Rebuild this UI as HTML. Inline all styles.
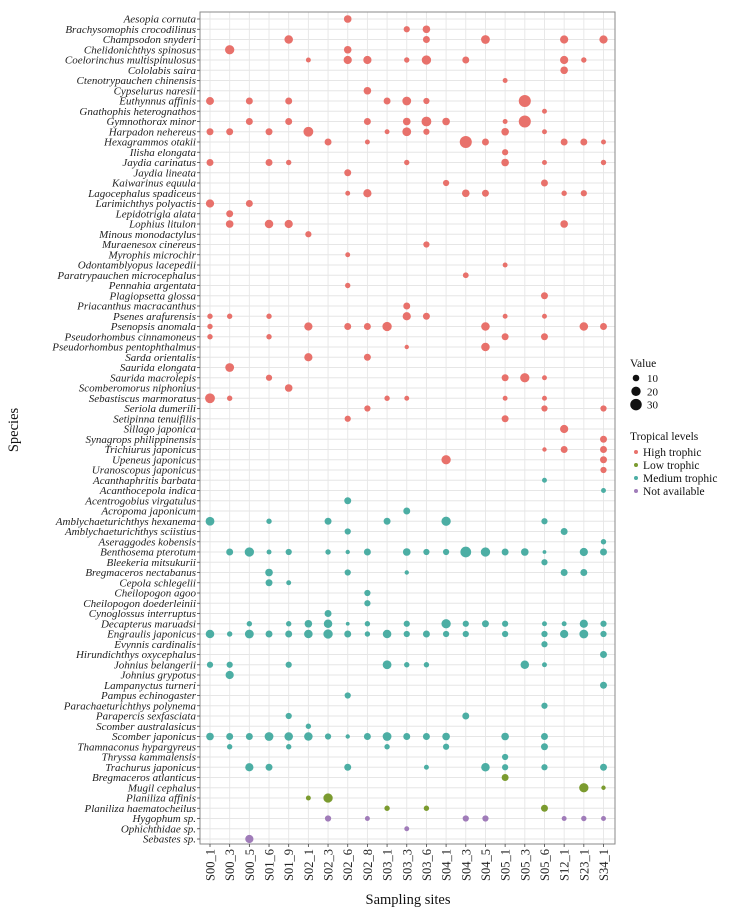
<!DOCTYPE html>
<html><head><meta charset="utf-8"><style>
html,body{margin:0;padding:0;background:#fff;}
svg{display:block;font-family:"Liberation Serif",serif;}
</style></head><body>
<svg id="chart" width="730" height="912" viewBox="0 0 730 912"></svg>
<script>
const species=["Aesopia cornuta","Brachysomophis crocodilinus","Champsodon snyderi","Chelidonichthys spinosus","Coelorinchus multispinulosus","Cololabis saira","Ctenotrypauchen chinensis","Cypselurus naresii","Euthynnus affinis","Gnathophis heterognathos","Gymnothorax minor","Harpadon nehereus","Hexagrammos otakii","Ilisha elongata","Jaydia carinatus","Jaydia lineata","Kaiwarinus equula","Lagocephalus spadiceus","Larimichthys polyactis","Lepidotrigla alata","Lophius litulon","Minous monodactylus","Muraenesox cinereus","Myrophis microchir","Odontamblyopus lacepedii","Paratrypauchen microcephalus","Pennahia argentata","Plagiopsetta glossa","Priacanthus macracanthus","Psenes arafurensis","Psenopsis anomala","Pseudorhombus cinnamoneus","Pseudorhombus pentophthalmus","Sarda orientalis","Saurida elongata","Saurida macrolepis","Scomberomorus niphonius","Sebastiscus marmoratus","Seriola dumerili","Setipinna tenuifilis","Sillago japonica","Synagrops philippinensis","Trichiurus japonicus","Upeneus japonicus","Uranoscopus japonicus","Acanthaphritis barbata","Acanthocepola indica","Acentrogobius virgatulus","Acropoma japonicum","Amblychaeturichthys hexanema","Amblychaeturichthys sciistius","Aseraggodes kobensis","Benthosema pterotum","Bleekeria mitsukurii","Bregmaceros nectabanus","Cepola schlegelii","Cheilopogon agoo","Cheilopogon doederleinii","Cynoglossus interruptus","Decapterus maruadsi","Engraulis japonicus","Evynnis cardinalis","Hirundichthys oxycephalus","Johnius belangerii","Johnius grypotus","Lampanyctus turneri","Pampus echinogaster","Parachaeturichthys polynema","Parapercis sexfasciata","Scomber australasicus","Scomber japonicus","Thamnaconus hypargyreus","Thryssa kammalensis","Trachurus japonicus","Bregmaceros atlanticus","Mugil cephalus","Planiliza affinis","Planiliza haematocheilus","Hygophum sp.","Ophichthidae sp.","Sebastes sp."];
const sites=["S00_1","S00_3","S00_5","S01_6","S01_9","S02_1","S02_3","S02_6","S02_8","S03_1","S03_3","S03_6","S04_1","S04_3","S04_5","S05_1","S05_3","S05_6","S12_1","S23_1","S34_1"];
const levelNames=["High trophic","Low trophic","Medium trophic","Not available"];
const levelColors=["#e8716b","#7b9b2f","#4caea4","#a07cb9"];
const speciesLevel=[0,0,0,0,0,0,0,0,0,0,0,0,0,0,0,0,0,0,0,0,0,0,0,0,0,0,0,0,0,0,0,0,0,0,0,0,0,0,0,0,0,0,0,0,0,2,2,2,2,2,2,2,2,2,2,2,2,2,2,2,2,2,2,2,2,2,2,2,2,2,2,2,2,2,1,1,1,1,3,3,3];
const values=[
[[7,12]],
[[10,8],[11,12]],
[[4,15],[11,10],[14,16],[18,14],[20,14]],
[[1,18],[7,12]],
[[5,5],[7,14],[8,14],[10,6],[11,18],[13,10],[18,14],[19,6]],
[[18,12]],
[[15,5]],
[[8,12]],
[[0,13],[2,10],[4,10],[9,10],[10,16],[11,8],[16,30]],
[[17,5]],
[[2,10],[4,10],[8,10],[10,12],[11,20],[12,12],[15,5],[16,30]],
[[0,10],[1,10],[3,10],[5,20],[9,5],[10,16],[11,8],[15,12],[17,5]],
[[6,10],[8,5],[13,30],[14,10],[18,10],[19,10],[20,5]],
[[15,8]],
[[0,10],[3,10],[4,6],[10,6],[15,12],[17,5],[20,6]],
[[7,10]],
[[12,8],[17,10]],
[[7,5],[8,14],[13,12],[14,10],[18,6],[19,8]],
[[0,14],[2,10]],
[[1,10]],
[[1,12],[3,15],[4,14],[18,12]],
[[5,8]],
[[11,8]],
[[7,5]],
[[15,5]],
[[13,7]],
[[7,6]],
[[17,10]],
[[10,10]],
[[0,6],[1,6],[3,6],[10,14],[11,10],[15,5],[17,5]],
[[0,6],[5,14],[7,10],[8,10],[9,18],[14,15],[19,15],[20,10]],
[[0,6],[3,6],[15,10],[17,10]],
[[10,4],[14,15]],
[[5,14],[8,10]],
[[1,16]],
[[3,8],[15,10],[16,18],[17,5]],
[[4,12]],
[[0,20],[1,6],[9,6],[10,5],[15,5],[17,5]],
[[8,8],[17,8],[20,8]],
[[7,8],[15,10]],
[[18,14]],
[[20,10]],
[[17,4],[18,10],[20,10]],
[[12,18],[20,10]],
[[20,8]],
[[17,5]],
[[20,5]],
[[7,10]],
[[10,10]],
[[0,16],[3,6],[6,10],[9,10],[12,18],[17,8]],
[[7,8],[18,10]],
[[20,6]],
[[1,10],[2,18],[3,5],[4,8],[6,6],[7,4],[8,10],[10,12],[11,8],[12,8],[13,24],[14,18],[15,10],[16,12],[17,3],[19,14],[20,10]],
[[17,8]],
[[3,12],[7,8],[10,4],[18,10],[19,10]],
[[3,10],[4,5]],
[[8,8]],
[[8,8]],
[[6,10]],
[[2,6],[4,6],[5,12],[6,15],[7,3],[8,6],[10,8],[12,18],[13,8],[14,10],[15,8],[17,5],[18,5],[19,14],[20,8]],
[[0,15],[1,6],[2,16],[3,10],[4,10],[5,15],[6,18],[7,10],[8,6],[9,15],[10,8],[11,10],[12,8],[13,8],[15,8],[17,8],[18,14],[19,16],[20,8]],
[[17,8]],
[[20,10]],
[[0,8],[1,8],[4,8],[9,16],[10,6],[11,6],[16,15],[17,5]],
[[1,14]],
[[20,10]],
[[7,8]],
[[17,8]],
[[4,8],[13,10]],
[[5,6]],
[[0,12],[1,10],[2,10],[3,16],[4,15],[5,15],[6,8],[7,4],[8,10],[9,16],[10,10],[11,10],[12,12],[15,12],[17,10]],
[[1,6],[4,6],[9,6],[12,8],[17,10]],
[[15,8]],
[[2,14],[3,10],[7,10],[11,5],[14,15],[15,8],[17,8],[20,10]],
[[15,10]],
[[19,18],[20,4]],
[[5,5],[6,18]],
[[9,6],[11,6],[17,10]],
[[6,8],[8,5],[13,8],[14,8],[18,5],[19,6],[20,5]],
[[10,5]],
[[2,14]]
];
const legendValues=[10,20,30];

const NS="http://www.w3.org/2000/svg";
const svg=document.getElementById("chart");
function mk(tag,attrs,parent){const e=document.createElementNS(NS,tag);for(const k in attrs)e.setAttribute(k,attrs[k]);(parent||svg).appendChild(e);return e;}
const L=200,R=615,T=12,B=844;
const xS=i=>210+i*(603.5-210)/(sites.length-1);
const yS=i=>19+i*(839-19)/(species.length-1);
const rS=v=>1.1*Math.sqrt(v);

const panel=mk("rect",{x:L,y:T,width:R-L,height:B-T,fill:"#fff",stroke:"none"});


const grid=mk("g",{stroke:"#e6e6e6","stroke-width":"0.9"});


species.forEach((s,i)=>{mk("line",{x1:L,x2:R,y1:yS(i),y2:yS(i)},grid);});
sites.forEach((s,i)=>{mk("line",{x1:xS(i),x2:xS(i),y1:T,y2:B},grid);});

const pts=mk("g",{});


values.forEach((row,si)=>{row.forEach(([xi,v])=>{
  const c=mk("circle",{cx:xS(xi),cy:yS(si),r:rS(v),fill:levelColors[speciesLevel[si]]},pts);
  
  
});});
const border=mk("rect",{x:L,y:T,width:R-L,height:B-T,fill:"none",stroke:"#8a8a8a","stroke-width":"1"});



const yAx=mk("g",{});


species.forEach((s,i)=>{
  mk("line",{x1:L-3,x2:L,y1:yS(i),y2:yS(i),stroke:"#444","stroke-width":"0.8"},yAx);
  const t=mk("text",{x:L-4,y:yS(i)+3.7,"text-anchor":"end","font-size":"11","font-style":"italic",fill:"#222"},yAx);
  t.textContent=s;
  
  
});
const xAx=mk("g",{});


sites.forEach((s,i)=>{
  mk("line",{x1:xS(i),x2:xS(i),y1:B,y2:B+3,stroke:"#444","stroke-width":"0.8"},xAx);
  const t=mk("text",{x:0,y:0,"text-anchor":"end","font-size":"12.5",fill:"#222",transform:`translate(${xS(i)+4.5},${B+5}) rotate(-90)`},xAx);
  t.textContent=s;
  
  
});
const xt=mk("text",{x:408,y:904,"text-anchor":"middle","font-size":"14.5",fill:"#111"});
xt.textContent="Sampling sites";


const yt=mk("text",{x:0,y:0,"text-anchor":"middle","font-size":"14.5",fill:"#111",transform:"translate(18,430) rotate(-90)"});
yt.textContent="Species";



const lg=mk("g",{});


const lt1=mk("text",{x:630,y:367,"font-size":"11.5",fill:"#111"},lg);
lt1.textContent="Value";


legendValues.forEach((v,i)=>{
  const y=378+i*13.3;
  const c=mk("circle",{cx:636,cy:y,r:rS(v)*0.95,fill:"#111"},lg);
  
  
  const t=mk("text",{x:647,y:y+4,"font-size":"11",fill:"#111"},lg);
  t.textContent=v;
  
  
});
const lt2=mk("text",{x:630,y:440,"font-size":"11.5",fill:"#111"},lg);
lt2.textContent="Tropical levels";


levelNames.forEach((n,i)=>{
  const y=452+i*13;
  const c=mk("circle",{cx:636,cy:y,r:2,fill:levelColors[i]},lg);
  
  
  const t=mk("text",{x:643,y:y+4,"font-size":"11.5",fill:"#111"},lg);
  t.textContent=n;
  
  
});
</script>
</body></html>
